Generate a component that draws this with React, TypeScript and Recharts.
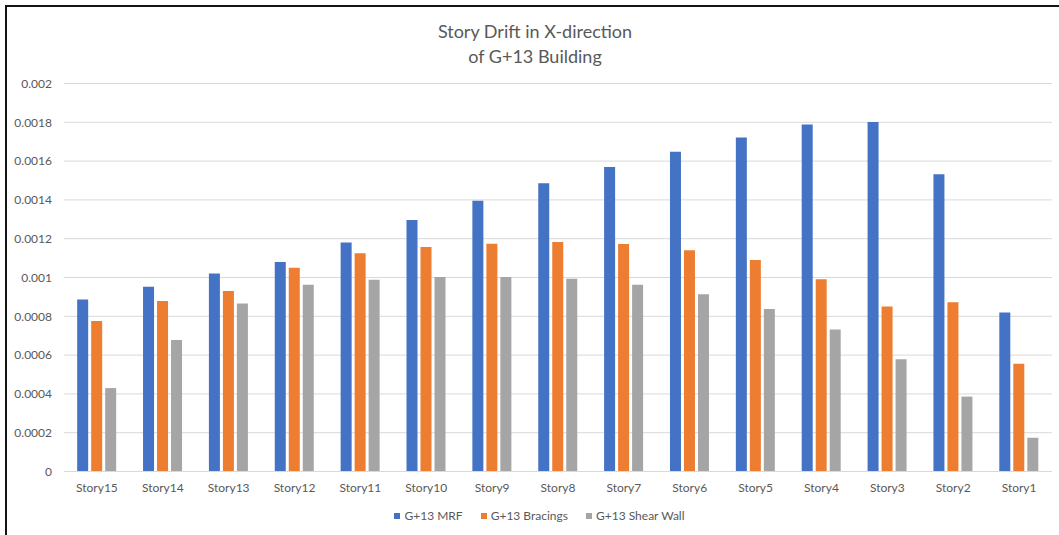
import React from 'react'
import { BarChart, Bar, XAxis, YAxis, CartesianGrid } from 'recharts'

// story labels, top of the building first
const stories = [
  'Story15', 'Story14', 'Story13', 'Story12', 'Story11', 'Story10', 'Story9', 'Story8',
  'Story7', 'Story6', 'Story5', 'Story4', 'Story3', 'Story2', 'Story1',
]

// drift values per system
const mrf = [
  0.000887, 0.000952, 0.00102, 0.00108, 0.00118, 0.001296, 0.001396, 0.001486,
  0.001569, 0.001648, 0.001722, 0.001789, 0.001801, 0.001532, 0.00082,
]
const bracings = [
  0.000776, 0.000879, 0.000931, 0.00105, 0.001125, 0.001157, 0.001174, 0.001183,
  0.001173, 0.001141, 0.00109, 0.000991, 0.00085, 0.000873, 0.000556,
]
const shearWall = [
  0.00043, 0.000678, 0.000866, 0.000963, 0.000988, 0.001002, 0.001002, 0.000993,
  0.000963, 0.000914, 0.000838, 0.000732, 0.000579, 0.000386, 0.000174,
]

const yTicks = [0, 0.0002, 0.0004, 0.0006, 0.0008, 0.001, 0.0012, 0.0014, 0.0016, 0.0018, 0.002]

const series = [
  { key: 'mrf', name: 'G+13 MRF', color: '#4472C4' },
  { key: 'bracings', name: 'G+13 Bracings', color: '#ED7D31' },
  { key: 'shearWall', name: 'G+13 Shear Wall', color: '#A5A5A5' },
]

const rows = stories.map((story, i) => ({
  story,
  mrf: mrf[i],
  bracings: bracings[i],
  shearWall: shearWall[i],
}))

const FONT = 'Lato, "Liberation Sans", sans-serif'
const TEXT = '#595959'

export default function App() {
  return (
    <div
      style={{
        position: 'absolute',
        left: 0,
        top: 0,
        width: 1059,
        height: 535,
        background: '#fff',
        fontFamily: FONT,
        overflow: 'hidden',
      }}
    >
      {/* frame edges */}
      <div style={{ position: 'absolute', left: 5, top: 5, width: 1054, height: 2, background: '#141414' }} />
      <div style={{ position: 'absolute', left: 5, top: 5, width: 2, height: 530, background: '#141414' }} />

      <div
        style={{
          position: 'absolute',
          left: 335,
          top: 19,
          width: 400,
          textAlign: 'center',
          color: TEXT,
          fontSize: 18,
          lineHeight: '25px',
        }}
      >
        Story Drift in X-direction
        <br />
        of G+13 Building
      </div>

      <div style={{ position: 'absolute', left: 0, top: 0 }}>
        <BarChart
          width={1059}
          height={535}
          data={rows}
          margin={{ top: 83.5, right: 7, bottom: 33.5, left: 0 }}
          barCategoryGap="20%"
          barGap={3}
        >
          <CartesianGrid vertical={false} stroke="#D9D9D9" />
          <XAxis
            dataKey="story"
            height={30}
            tickLine={false}
            tickSize={0}
            tickMargin={12}
            axisLine={{ stroke: '#D9D9D9' }}
            tick={{ fill: TEXT, fontSize: 12, fontFamily: FONT }}
            interval={0}
          />
          <YAxis
            width={64}
            domain={[0, 0.002]}
            ticks={yTicks}
            axisLine={false}
            tickLine={false}
            tickSize={0}
            tickMargin={12}
            tick={{ fill: TEXT, fontSize: 12, fontFamily: FONT }}
            tickFormatter={(v: number) => String(Number(v.toFixed(4)))}
          />
          {series.map(s => (
            <Bar key={s.key} dataKey={s.key} name={s.name} fill={s.color} isAnimationActive={false} />
          ))}
        </BarChart>
      </div>

      {/* legend */}
      <div
        style={{
          position: 'absolute',
          left: 0,
          width: 1079,
          top: 508,
          display: 'flex',
          justifyContent: 'center',
          gap: 18,
          fontSize: 12,
          color: TEXT,
        }}
      >
        {series.map(s => (
          <div key={s.key} style={{ display: 'flex', alignItems: 'center', gap: 4 }}>
            <span style={{ width: 6, height: 6, background: s.color, display: 'inline-block' }} />
            <span>{s.name}</span>
          </div>
        ))}
      </div>
    </div>
  )
}
